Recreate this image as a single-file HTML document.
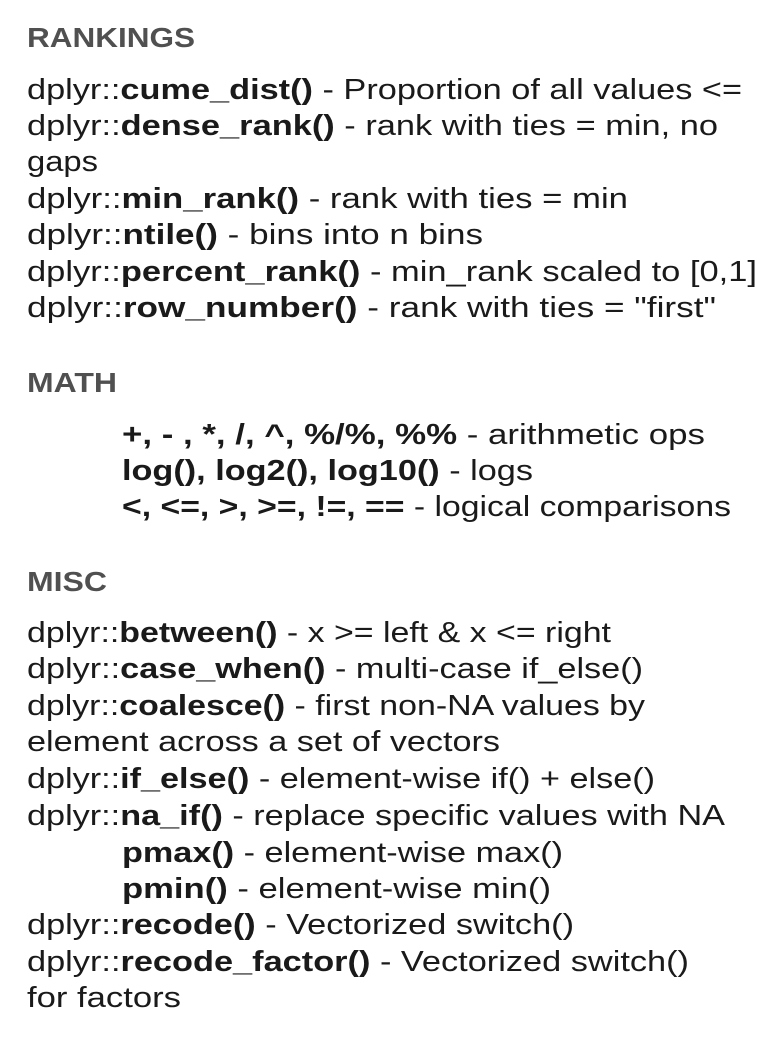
<!DOCTYPE html>
<html><head><meta charset="utf-8"><style>
html,body{margin:0;padding:0;background:#fff;}
svg{display:block}
text{font-family:"Liberation Sans",sans-serif;font-size:29px;fill:#1a1a1a}
.h{font-weight:bold;fill:#505050;font-size:28px}
.b{font-weight:bold}
</style></head><body>
<svg width="776" height="1042" xmlns="http://www.w3.org/2000/svg">
<text class="h" x="27" y="47" textLength="168" lengthAdjust="spacingAndGlyphs">RANKINGS</text>
<text x="27" y="99" textLength="715" lengthAdjust="spacingAndGlyphs">dplyr::<tspan class="b">cume_dist()</tspan> - Proportion of all values &lt;=</text>
<text x="27" y="135" textLength="691" lengthAdjust="spacingAndGlyphs">dplyr::<tspan class="b">dense_rank()</tspan> - rank with ties = min, no</text>
<text x="27" y="171" textLength="71" lengthAdjust="spacingAndGlyphs">gaps</text>
<text x="27" y="208" textLength="601" lengthAdjust="spacingAndGlyphs">dplyr::<tspan class="b">min_rank()</tspan> - rank with ties = min</text>
<text x="27" y="244" textLength="456" lengthAdjust="spacingAndGlyphs">dplyr::<tspan class="b">ntile()</tspan> - bins into n bins</text>
<text x="27" y="281" textLength="730" lengthAdjust="spacingAndGlyphs">dplyr::<tspan class="b">percent_rank()</tspan> - min_rank scaled to [0,1]</text>
<text x="27" y="317" textLength="689" lengthAdjust="spacingAndGlyphs">dplyr::<tspan class="b">row_number()</tspan> - rank with ties = "first"</text>

<text class="h" x="27" y="392" textLength="90" lengthAdjust="spacingAndGlyphs">MATH</text>
<text x="122" y="444" textLength="583" lengthAdjust="spacingAndGlyphs"><tspan class="b">+, - , *, /, ^, %/%, %%</tspan> - arithmetic ops</text>
<text x="122" y="480" textLength="411" lengthAdjust="spacingAndGlyphs"><tspan class="b">log(), log2(), log10()</tspan> - logs</text>
<text x="122" y="516" textLength="609" lengthAdjust="spacingAndGlyphs"><tspan class="b">&lt;, &lt;=, &gt;, &gt;=, !=, ==</tspan> - logical comparisons</text>

<text class="h" x="27" y="591" textLength="80" lengthAdjust="spacingAndGlyphs">MISC</text>
<text x="27" y="642" textLength="584" lengthAdjust="spacingAndGlyphs">dplyr::<tspan class="b">between()</tspan> - x &gt;= left &amp; x &lt;= right</text>
<text x="27" y="678" textLength="616" lengthAdjust="spacingAndGlyphs">dplyr::<tspan class="b">case_when()</tspan> - multi-case if_else()</text>
<text x="27" y="715" textLength="618" lengthAdjust="spacingAndGlyphs">dplyr::<tspan class="b">coalesce()</tspan> - first non-NA values by</text>
<text x="27" y="751" textLength="473" lengthAdjust="spacingAndGlyphs">element  across a set of vectors</text>
<text x="27" y="788" textLength="628" lengthAdjust="spacingAndGlyphs">dplyr::<tspan class="b">if_else()</tspan> - element-wise if() + else()</text>
<text x="27" y="825" textLength="698" lengthAdjust="spacingAndGlyphs">dplyr::<tspan class="b">na_if()</tspan> - replace specific values with NA</text>
<text x="122" y="862" textLength="441" lengthAdjust="spacingAndGlyphs"><tspan class="b">pmax()</tspan> - element-wise max()</text>
<text x="122" y="898" textLength="429" lengthAdjust="spacingAndGlyphs"><tspan class="b">pmin()</tspan> - element-wise min()</text>
<text x="27" y="934" textLength="547" lengthAdjust="spacingAndGlyphs">dplyr::<tspan class="b">recode()</tspan> - Vectorized switch()</text>
<text x="27" y="971" textLength="662" lengthAdjust="spacingAndGlyphs">dplyr::<tspan class="b">recode_factor()</tspan> - Vectorized switch()</text>
<text x="27" y="1007" textLength="154" lengthAdjust="spacingAndGlyphs">for factors</text>
</svg>
</body></html>
